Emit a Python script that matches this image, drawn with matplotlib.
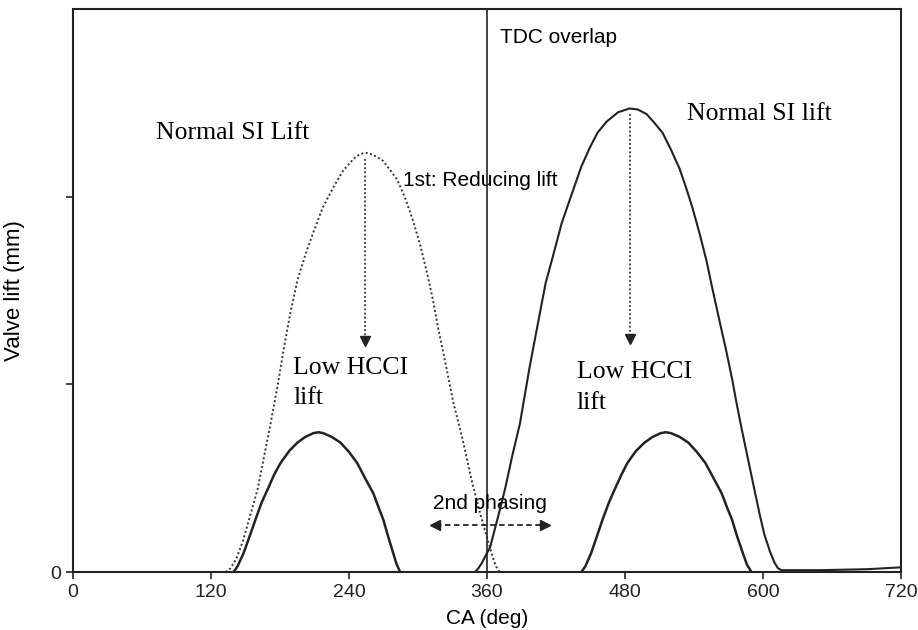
import matplotlib
matplotlib.use("Agg")
import matplotlib.pyplot as plt

# Crank angle (deg) and valve lift (mm, arbitrary units) for each profile
si_intake_ca = [132.7, 137, 142, 148, 154, 160.5, 166, 171.8, 178.7, 183, 189, 195, 202, 209,
                217, 226.4, 235, 243.8, 249, 254.2, 260, 265, 269.8, 276, 282, 289, 295.8,
                302, 308, 313, 317.5, 324, 330.5, 339, 347, 355, 362.6, 366, 368.7, 371]
si_intake_lift = [0, 0.02, 0.07, 0.17, 0.30, 0.44, 0.61, 0.79, 1.02, 1.18, 1.38, 1.55, 1.69, 1.81,
                  1.94, 2.05, 2.14, 2.20, 2.225, 2.235, 2.225, 2.21, 2.19, 2.14, 2.09, 1.99, 1.87,
                  1.74, 1.59, 1.45, 1.30, 1.11, 0.91, 0.70, 0.48, 0.29, 0.13, 0.06, 0.02, 0]

si_exhaust_ca = [349.6, 352.5, 355.7, 359, 362.6, 369, 375.6, 382, 388.6, 397, 406, 411, 417.2,
                 425, 434.6, 442, 449.3, 456, 464, 474, 484, 491, 498.8, 506, 512.7, 520, 527.4,
                 533, 538.7, 545, 550.8, 556, 562.1, 568, 573.4, 577, 581.2, 587, 592.5, 597,
                 601.2, 606, 610, 613, 616, 650, 690, 720]
si_exhaust_lift = [0, 0.02, 0.05, 0.09, 0.13, 0.28, 0.44, 0.62, 0.79, 1.09, 1.38, 1.54, 1.68,
                   1.86, 2.03, 2.16, 2.26, 2.34, 2.40, 2.45, 2.47, 2.465, 2.44, 2.39, 2.34, 2.25,
                   2.15, 2.05, 1.94, 1.80, 1.66, 1.51, 1.34, 1.18, 1.02, 0.90, 0.77, 0.60, 0.44,
                   0.31, 0.20, 0.11, 0.05, 0.02, 0.01, 0.01, 0.015, 0.025]

hcci_left_ca = [139.7, 143, 148.3, 153, 158.7, 164, 169.2, 175, 180.4, 188, 195.2, 202, 209,
                213.5, 217.7, 225, 232.5, 240, 247.2, 254, 261.1, 266, 269.8, 274, 278.5,
                281.5, 284.5]
hcci_left_lift = [0, 0.03, 0.10, 0.18, 0.28, 0.37, 0.44, 0.52, 0.58, 0.645, 0.69, 0.72, 0.74,
                  0.745, 0.74, 0.72, 0.69, 0.64, 0.58, 0.50, 0.42, 0.34, 0.28, 0.19, 0.10,
                  0.04, 0]

hcci_right_ca = [442, 445.5, 450.5, 455, 460.5, 466, 471, 477, 482, 489.5, 497, 504, 511,
                 515.5, 520, 527.5, 535, 542.5, 550, 557, 564, 569, 573, 577.5, 582.5, 586, 590]
hcci_right_lift = [0, 0.03, 0.10, 0.18, 0.28, 0.37, 0.44, 0.52, 0.58, 0.645, 0.69, 0.72, 0.74,
                   0.745, 0.74, 0.72, 0.69, 0.64, 0.58, 0.50, 0.42, 0.34, 0.28, 0.19, 0.10,
                   0.04, 0]

x_ticks = [0, 120, 240, 360, 480, 600, 720]
y_ticks = [0, 1, 2]
y_tick_labels = ["0", "", ""]
tdc_ca = 360

# Reduction arrows (x, from, to) and phasing arrow (y, x0, x1)
reduce_left = (254.2, 2.20, 1.21)
reduce_right = (484, 2.44, 1.22)
phasing = (0.25, 312, 413)

SANS = ["Liberation Sans", "DejaVu Sans"]
SERIF = ["Liberation Serif", "DejaVu Serif"]

fig = plt.figure(figsize=(9.18, 6.30), dpi=100)
ax = fig.add_axes([0.0795, 0.092, 0.902, 0.8937])

ax.plot(si_intake_ca, si_intake_lift, color="#333333", lw=1.4, linestyle=(0, (1, 1.3)))
ax.plot(si_exhaust_ca, si_exhaust_lift, color="#222222", lw=1.5)
ax.plot(hcci_left_ca, hcci_left_lift, color="#222222", lw=1.8)
ax.plot(hcci_right_ca, hcci_right_lift, color="#222222", lw=1.8)
ax.axvline(tdc_ca, color="#222222", lw=1.2)

# Dotted "reduce lift" arrows
for xa, y0, y1 in (reduce_left, reduce_right):
    ax.plot([xa, xa], [y0, y1 + 0.04], color="#333333", lw=1.3, linestyle=(0, (1, 1.3)))
    ax.plot([xa], [y1 + 0.02], marker="v", color="#222222", markersize=7, linestyle="none")

# Dashed double arrow for the phasing shift
py, px0, px1 = phasing
ax.plot([px0 + 4, px1 - 4], [py, py], color="#222222", lw=1.3, linestyle=(0, (3, 2)))
ax.plot([px0 + 3], [py], marker="<", color="#222222", markersize=7, linestyle="none")
ax.plot([px1 - 3], [py], marker=">", color="#222222", markersize=7, linestyle="none")

ax.set_xlim(0, 720)
ax.set_ylim(0, 3.0)
ax.set_xticks(x_ticks)
ax.set_xticklabels([str(v) for v in x_ticks], fontsize=14, family=SANS)
ax.set_yticks(y_ticks)
ax.set_yticklabels(y_tick_labels, fontsize=14, family=SANS)
ax.tick_params(axis="both", direction="out", length=5, width=1.2, colors="#222222")
for s in ax.spines.values():
    s.set_linewidth(1.5)
    s.set_color("#222222")

ax.set_xlabel("CA (deg)", fontsize=15, family=SANS, labelpad=6)
ax.set_ylabel("Valve lift (mm)", fontsize=16, family=SANS, labelpad=18)

# Annotations
ax.text(371, 2.85, "TDC overlap", fontsize=15, family=SANS, va="center", ha="left")
ax.text(287, 2.085, "1st: Reducing lift", fontsize=15, family=SANS, va="center", ha="left")
ax.text(362.6, 0.367, "2nd phasing", fontsize=15, family=SANS, va="center", ha="center")
ax.text(72, 2.34, "Normal SI Lift", fontsize=18.5, family=SERIF, va="center", ha="left")
ax.text(533.5, 2.44, "Normal SI lift", fontsize=18.5, family=SERIF, va="center", ha="left")
for x0, y_top, y_bot in ((191.7, 1.085, 0.93), (438, 1.065, 0.90)):
    ax.text(x0, y_top, "Low HCCI", fontsize=18.5, family=SERIF, va="center", ha="left")
    ax.text(x0, y_bot, "lift", fontsize=18.5, family=SERIF, va="center", ha="left")

fig.savefig("out.png", dpi=100)
